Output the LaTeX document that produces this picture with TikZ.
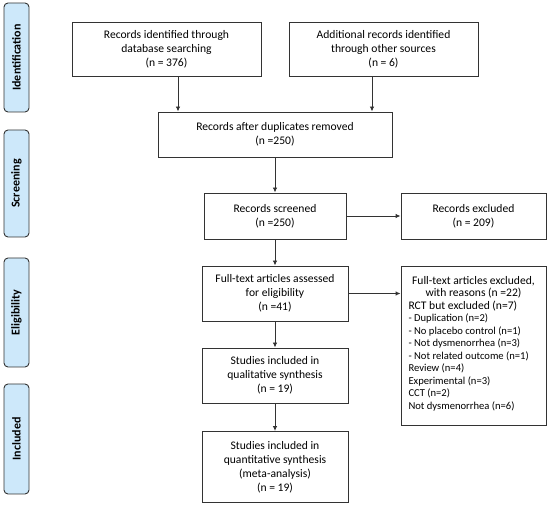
\documentclass[tikz,border=0pt]{standalone}
\usepackage{fontspec}
\setmainfont{Carlito}
\usetikzlibrary{arrows.meta,calc}
\definecolor{sidefill}{HTML}{CDE8FA}
\definecolor{linec}{HTML}{333333}
\newcommand\smtxt{\fontsize{10.6}{12.5}\selectfont}
\tikzset{
  box/.style={draw=linec, line width=0.9pt, fill=white, align=center, font=\fontsize{11.6}{14}\selectfont, inner sep=2pt},
  side/.style={draw=linec, line width=0.9pt, fill=sidefill, rounded corners=4pt, minimum width=25pt, font=\bfseries\fontsize{12}{13}\selectfont, inner sep=0pt},
  arr/.style={draw=linec, line width=0.9pt, -{Latex[length=5pt,width=4.5pt]}}
}
\begin{document}
\begin{tikzpicture}[x=1pt,y=1pt]
\useasboundingbox (0,0) rectangle (550,507);
% side labels
\node[side, minimum height=109pt] (s1) at (16.5,449.5) {\rotatebox{90}{Identification}};
\node[side, minimum height=107pt] (s2) at (16.5,323.5) {\rotatebox{90}{Screening}};
\node[side, minimum height=109pt] (s3) at (16.5,194.5) {\rotatebox{90}{Eligibility}};
\node[side, minimum height=110pt] (s4) at (16.5,68) {\rotatebox{90}{Included}};
% boxes
\node[box, minimum width=189pt, minimum height=54pt] (b1) at (166.5,458) {Records identified through\\database searching\\(n = 376)};
\node[box, minimum width=189pt, minimum height=54pt] (b2) at (383.5,458) {Additional records identified\\through other sources\\(n = 6)};
\node[box, minimum width=234pt, minimum height=45pt] (b3) at (275,372.5) {Records after duplicates removed\\(n =250)};
\node[box, minimum width=142pt, minimum height=46pt] (b4) at (275,291) {Records screened\\(n =250)};
\node[box, minimum width=145pt, minimum height=46pt] (b5) at (473.5,291) {Records excluded\\(n = 209)};
\node[box, minimum width=146pt, minimum height=55pt] (b6) at (275,213.5) {Full-text articles assessed\\for eligibility\\(n =41)};
\node[box, minimum width=145pt, minimum height=159pt, inner sep=0pt, font=\fontsize{11.6}{12.5}\selectfont] (b7) at (473.5,161.5) {%
\begin{tabular}{@{}p{130pt}@{}}
\centering Full-text articles excluded,\tabularnewline
\centering with reasons (n =22)\tabularnewline
RCT but excluded (n=7)\tabularnewline
\smtxt - Duplication (n=2)\tabularnewline
\smtxt - No placebo control (n=1)\tabularnewline
\smtxt - Not dysmenorrhea (n=3)\tabularnewline
\smtxt - Not related outcome (n=1)\tabularnewline
\smtxt Review (n=4)\tabularnewline
\smtxt Experimental (n=3)\tabularnewline
\smtxt CCT (n=2)\tabularnewline
\smtxt Not dysmenorrhea (n=6)\tabularnewline[2pt]
\end{tabular}};
\node[box, minimum width=146pt, minimum height=55pt] (b8) at (275,131.5) {Studies included in\\qualitative synthesis\\(n = 19)};
\node[box, minimum width=146pt, minimum height=71pt] (b9) at (275,40) {Studies included in\\quantitative synthesis\\(meta-analysis)\\(n = 19)};
% arrows
\coordinate (a1) at ($(b1.south)+(11.5,0)$);
\coordinate (a2) at ($(b2.south)+(-11.5,0)$);
\draw[arr] (a1) -- (a1 |- b3.north);
\draw[arr] (a2) -- (a2 |- b3.north);
\draw[arr] (b3.south) -- (b4.north);
\draw[arr] (b4.east) -- (b5.west);
\draw[arr] (b4.south) -- (b6.north);
\draw[arr] (b6.east) -- (b6.east -| b7.west);
\draw[arr] (b6.south) -- (b8.north);
\draw[arr] (b8.south) -- (b9.north);
\end{tikzpicture}
\end{document}
